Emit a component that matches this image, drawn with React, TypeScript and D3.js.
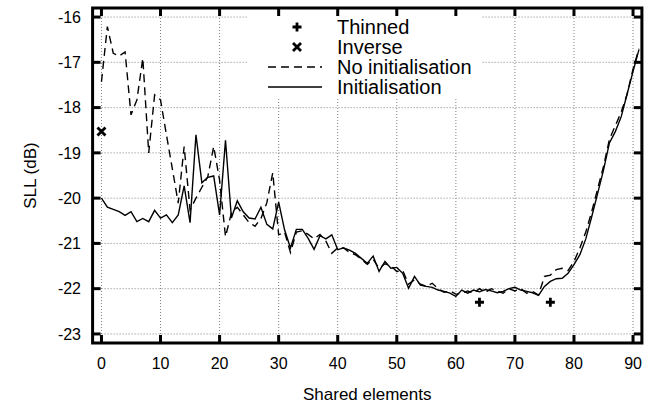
import React from 'react';
import * as d3 from 'd3';

// valeurs, x = 0..91
const sharedElements = d3.range(0, 92);

const noInit = [
  -17.43, -16.21, -16.8, -16.86, -16.77, -18.16, -17.83, -16.91, -19.0, -17.72,
  -17.83, -18.6, -19.35, -20.11, -18.86, -20.26, -20.0, -19.76, -19.53, -18.86,
  -19.6, -20.85, -20.33, -20.2, -20.37, -20.54, -20.62, -20.45, -20.1, -19.44,
  -20.81, -20.75, -21.2, -20.75, -20.72, -20.8, -20.9, -20.8, -20.95, -21.22,
  -21.1, -21.1, -21.2, -21.25, -21.35, -21.46, -21.35, -21.55, -21.45, -21.5,
  -21.62, -21.6, -21.9, -21.8, -21.9, -21.95, -21.88, -22.0, -22.08, -22.05,
  -22.12, -22.1, -22.05, -22.1, -22.0, -22.08, -22.0, -22.05, -22.1, -22.0,
  -22.05, -22.0, -22.1, -22.06, -22.14, -21.73, -21.7, -21.58, -21.55, -21.6,
  -21.4, -21.1, -20.75, -20.3, -19.8, -19.3, -18.7, -18.4, -18.1, -17.7,
  -17.15, -16.7,
];

const withInit = [
  -20.0, -20.2, -20.25, -20.3, -20.38, -20.3, -20.52, -20.45, -20.52, -20.27,
  -20.44, -20.37, -20.54, -20.37, -19.73, -20.54, -18.6, -19.66, -19.54, -19.51,
  -20.37, -18.72, -20.44, -20.06, -20.3, -20.44, -20.46, -20.2, -20.58, -20.68,
  -20.09, -20.7, -21.1, -20.69, -20.69, -20.89, -21.13, -20.83, -20.9, -20.81,
  -21.14, -21.1, -21.15, -21.22, -21.33, -21.44, -21.28, -21.62, -21.4, -21.55,
  -21.53, -21.66, -21.99, -21.73, -21.92, -21.95, -21.97, -22.03, -22.06, -22.1,
  -22.17, -22.03, -22.1, -22.03, -22.07, -22.02, -22.05, -22.09, -22.06, -22.0,
  -21.97, -22.03, -22.06, -22.09, -22.15, -21.95, -21.84, -21.78, -21.77, -21.66,
  -21.47, -21.25, -20.9, -20.41, -19.9, -19.38, -18.78, -18.53, -18.2, -17.7,
  -17.2, -16.72,
];

const thinnedX = [64, 76];
const thinnedY = [-22.3, -22.3];
const inverseX = [0];
const inverseY = [-18.53];

const xTicks = [0, 10, 20, 30, 40, 50, 60, 70, 80, 90];
const yTicks = [-23, -22, -21, -20, -19, -18, -17, -16];

const legendLabels = ['Thinned', 'Inverse', 'No initialisation', 'Initialisation'];

const W = 665;
const H = 408;
const font = '"Liberation Sans", Arial, Helvetica, sans-serif';

export default function App() {
  const x = d3.scaleLinear().domain([-1.5, 91.5]).range([92.6, 641.9]);
  const y = d3.scaleLinear().domain([-23.2, -15.8]).range([343, 8]);
  const [x0, x1] = x.range();
  const [y0, y1] = y.range();

  const line = d3.line<number>()
    .x((_, i) => x(sharedElements[i]))
    .y(d => y(d));

  const tickLen = 8;

  // legende
  const lgX = 268, lgW = 54, lgTextX = 337, lgY0 = 27, lgStep = 20;

  return (
    <svg width={W} height={H} style={{ position: 'absolute', left: 0, top: 0, background: '#fff' }}>
      <defs>
        <clipPath id="plot">
          <rect x={x0} y={y1} width={x1 - x0} height={y0 - y1} />
        </clipPath>
      </defs>
      <rect width={W} height={H} fill="#fff" />

      {/* grille */}
      <g stroke="#808080" strokeWidth={1} strokeDasharray="1,2">
        {xTicks.map(t => (
          <line key={'gx' + t} x1={x(t)} x2={x(t)} y1={y0} y2={y1} />
        ))}
        {yTicks.map(t => (
          <line key={'gy' + t} x1={x0} x2={x1} y1={y(t)} y2={y(t)} />
        ))}
      </g>

      {/* fond de la legende */}
      <rect x={247} y={y1 + 1} width={235} height={90} fill="#fff" />

      {/* courbes */}
      <g clipPath="url(#plot)" fill="none" stroke="#000" strokeWidth={1.4}>
        <path d={line(noInit) || ''} strokeDasharray="8,5" />
        <path d={line(withInit) || ''} />
      </g>

      {/* points */}
      {thinnedX.map((t, i) => (
        <path key={'th' + i} transform={`translate(${x(t)},${y(thinnedY[i])})`}
          d="M-4.5,0H4.5M0,-4.5V4.5" stroke="#000" strokeWidth={2.8} />
      ))}
      {inverseX.map((t, i) => (
        <path key={'inv' + i} transform={`translate(${x(t)},${y(inverseY[i])})`}
          d="M-4,-4L4,4M-4,4L4,-4" stroke="#000" strokeWidth={2.8} />
      ))}

      {/* cadre et graduations */}
      <g stroke="#000" strokeWidth={3}>
        {xTicks.map(t => (
          <g key={'tx' + t}>
            <line x1={x(t)} x2={x(t)} y1={y0} y2={y0 - tickLen} />
            <line x1={x(t)} x2={x(t)} y1={y1} y2={y1 + tickLen} />
          </g>
        ))}
        {yTicks.map(t => (
          <g key={'ty' + t}>
            <line x1={x0} x2={x0 + tickLen} y1={y(t)} y2={y(t)} />
            <line x1={x1} x2={x1 - tickLen} y1={y(t)} y2={y(t)} />
          </g>
        ))}
        <rect x={x0} y={y1} width={x1 - x0} height={y0 - y1} fill="none" />
      </g>

      {/* etiquettes */}
      <g fontFamily={font} fontSize={16} fill="#000">
        {xTicks.map(t => (
          <text key={'lx' + t} x={x(t)} y={369} textAnchor="middle">{t}</text>
        ))}
        {yTicks.map(t => (
          <text key={'ly' + t} x={81} y={y(t)} dy="0.36em" textAnchor="end">{t}</text>
        ))}
      </g>
      <g fontFamily={font} fontSize={17} fill="#000">
        <text x={(x0 + x1) / 2} y={400} textAnchor="middle">Shared elements</text>
        <text transform={`translate(36,${(y0 + y1) / 2}) rotate(-90)`} textAnchor="middle">SLL (dB)</text>
      </g>

      {/* legende */}
      <g fontFamily={font} fontSize={20}>
        {legendLabels.map((lab, i) => (
          <text key={lab} x={lgTextX} y={lgY0 + i * lgStep} dy="0.36em">{lab}</text>
        ))}
        <path transform={`translate(${lgX + lgW / 2 + 2},${lgY0})`} d="M-4.5,0H4.5M0,-4.5V4.5" stroke="#000" strokeWidth={2.8} />
        <path transform={`translate(${lgX + lgW / 2 + 2},${lgY0 + lgStep})`} d="M-4,-4L4,4M-4,4L4,-4" stroke="#000" strokeWidth={2.8} />
        <line x1={lgX} x2={lgX + lgW} y1={lgY0 + 2 * lgStep} y2={lgY0 + 2 * lgStep} stroke="#000" strokeWidth={1.4} strokeDasharray="8,5" />
        <line x1={lgX} x2={lgX + lgW} y1={lgY0 + 3 * lgStep} y2={lgY0 + 3 * lgStep} stroke="#000" strokeWidth={1.4} />
      </g>
    </svg>
  );
}
